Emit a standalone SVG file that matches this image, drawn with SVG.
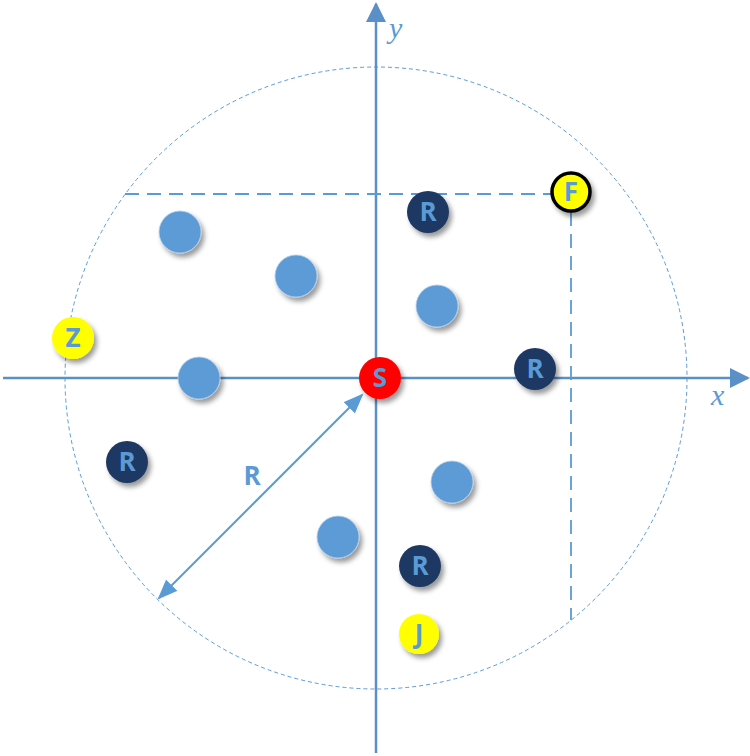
<svg xmlns="http://www.w3.org/2000/svg" width="750" height="756" viewBox="0 0 750 756">
<defs>
<style>
.axis{stroke:#5b8fc7;stroke-width:2.5;fill:none}
.dash{stroke:#5b9bd5;stroke-width:1.8;stroke-dasharray:14 8;fill:none}
.circ{stroke:#5b9bd5;stroke-width:1;stroke-dasharray:4 3;fill:none}
.dot{fill:#5b9bd5;stroke:#b7cfe8;stroke-width:0.8;filter:url(#sh)}
.rn{fill:#1f3864;filter:url(#sh)}
.yn{fill:#ffff00;filter:url(#sh)}
.lbl{font-family:"Open Sans","Liberation Sans",sans-serif;font-weight:bold;font-size:26px;fill:#5b9bd5;text-anchor:middle}
.ax{font-family:"Liberation Serif",serif;font-style:italic;font-size:30px;fill:#5b9bd5}
</style>
<filter id="sh" x="-50%" y="-50%" width="200%" height="200%">
<feDropShadow dx="3" dy="4" stdDeviation="2.5" flood-color="#000" flood-opacity="0.4"/>
</filter>
<marker id="ah" viewBox="0 0 10 10" refX="9" refY="5" markerWidth="20" markerHeight="16" orient="auto-start-reverse" markerUnits="userSpaceOnUse" preserveAspectRatio="none">
<path d="M0,0 L10,5 L0,10 z" fill="#5b9bd5"/>
</marker>
<marker id="ax" viewBox="0 0 10 10" refX="9" refY="5" markerWidth="8" markerHeight="8" orient="auto" markerUnits="strokeWidth">
<path d="M0,0 L10,5 L0,10 z" fill="#5b8fc7"/>
</marker>
</defs>
<g id="connectors">
<circle class="circ" cx="376" cy="378" r="311"/>
<line class="axis" x1="376" y1="753" x2="376" y2="4" marker-end="url(#ax)"/>
<line class="axis" x1="3" y1="378" x2="748" y2="378" marker-end="url(#ax)"/>
<polyline class="dash" points="125,194 552,194"/>
<polyline class="dash" points="571,212 571,620"/>
<line x1="159" y1="598" x2="362" y2="395" stroke="#5b9bd5" stroke-width="2" marker-start="url(#ah)" marker-end="url(#ah)"/>
</g>
<text class="ax" x="389" y="38">y</text>
<text class="ax" x="711" y="405">x</text>
<text class="lbl" x="252" y="485">R</text>
<g id="dots">
<circle class="dot" cx="180" cy="232" r="21"/>
<circle class="dot" cx="296" cy="276" r="21"/>
<circle class="dot" cx="437" cy="306" r="21"/>
<circle class="dot" cx="199" cy="378" r="21"/>
<circle class="dot" cx="452" cy="482" r="21"/>
<circle class="dot" cx="338" cy="537" r="21"/>
</g>
<g id="R1"><circle class="rn" cx="428" cy="212" r="21"/><text class="lbl" x="428" y="221">R</text></g>
<g id="R2"><circle class="rn" cx="535" cy="369" r="21"/><text class="lbl" x="535" y="378">R</text></g>
<g id="R3"><circle class="rn" cx="127" cy="462" r="21"/><text class="lbl" x="127" y="471">R</text></g>
<g id="R4"><circle class="rn" cx="420" cy="566" r="21"/><text class="lbl" x="420" y="575">R</text></g>
<g id="S"><circle cx="380" cy="378" r="21" fill="#ff0000" filter="url(#sh)"/><text class="lbl" x="380" y="387">S</text></g>
<g id="F"><circle cx="571" cy="192" r="19" fill="#ffff00" stroke="#000" stroke-width="3.5" filter="url(#sh)"/><text class="lbl" x="571" y="201">F</text></g>
<g id="Z"><circle class="yn" cx="73" cy="338" r="21"/><text class="lbl" x="73" y="347">Z</text></g>
<g id="J"><circle class="yn" cx="419" cy="634" r="20"/><text class="lbl" x="419" y="643">J</text></g>
</svg>
